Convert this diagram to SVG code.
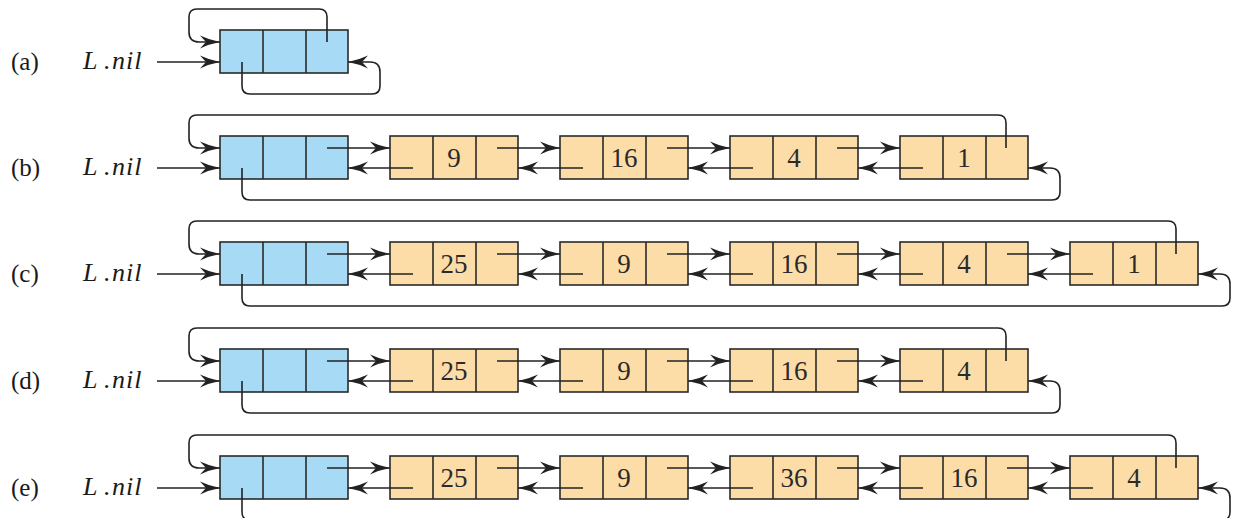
<svg xmlns="http://www.w3.org/2000/svg" width="1233" height="518" viewBox="0 0 1233 518">
<defs>
<style>
.sent{fill:#a6daf5;stroke:#2a2a2a;stroke-width:1.6}
.node{fill:#fcdca7;stroke:#2a2a2a;stroke-width:1.6}
.div{stroke:#2a2a2a;stroke-width:1.6}
.num{font-family:"Liberation Serif","Times New Roman",serif;font-size:27px;fill:#2a2a2a;text-anchor:middle}
.lab{font-family:"Liberation Serif","Times New Roman",serif;font-size:25px;fill:#1a1a1a}
.nil{font-family:"Liberation Serif","Times New Roman",serif;font-size:26px;font-style:italic;fill:#1a1a1a}
.c{fill:none;stroke:#222;stroke-width:1.6;marker-end:url(#ah)}
</style>
<marker id="ah" markerUnits="userSpaceOnUse" markerWidth="22" markerHeight="14" viewBox="0 -7 22 14" refX="20" refY="0" orient="auto">
<path d="M20,0 Q10,1.8 0,6.5 L6,0 L0,-6.5 Q10,-1.8 20,0 Z" fill="#222"/>
</marker>
</defs>
<rect width="1233" height="518" fill="#ffffff"/>

<g id="labels">
<text class="lab" x="11" y="70">(a)</text>
<text class="nil" x="83" y="69"><tspan>L</tspan><tspan x="104">.</tspan><tspan x="112" letter-spacing="1">nil</tspan></text>
<text class="lab" x="11" y="176">(b)</text>
<text class="nil" x="83" y="175"><tspan>L</tspan><tspan x="104">.</tspan><tspan x="112" letter-spacing="1">nil</tspan></text>
<text class="lab" x="11" y="282">(c)</text>
<text class="nil" x="83" y="281"><tspan>L</tspan><tspan x="104">.</tspan><tspan x="112" letter-spacing="1">nil</tspan></text>
<text class="lab" x="11" y="389">(d)</text>
<text class="nil" x="83" y="388"><tspan>L</tspan><tspan x="104">.</tspan><tspan x="112" letter-spacing="1">nil</tspan></text>
<text class="lab" x="11" y="496">(e)</text>
<text class="nil" x="83" y="495"><tspan>L</tspan><tspan x="104">.</tspan><tspan x="112" letter-spacing="1">nil</tspan></text>
</g>

<g id="a-sentinel"><rect class="sent" x="220" y="30" width="128" height="43"/><line class="div" x1="263" y1="30" x2="263" y2="73"/><line class="div" x1="306" y1="30" x2="306" y2="73"/></g>

<g id="b-sentinel"><rect class="sent" x="220" y="136" width="128" height="43"/><line class="div" x1="263" y1="136" x2="263" y2="179"/><line class="div" x1="306" y1="136" x2="306" y2="179"/></g>
<g id="b-n9"><rect class="node" x="390" y="136" width="128" height="43"/><line class="div" x1="433" y1="136" x2="433" y2="179"/><line class="div" x1="476" y1="136" x2="476" y2="179"/><text class="num" x="454" y="167">9</text></g>
<g id="b-n16"><rect class="node" x="560" y="136" width="128" height="43"/><line class="div" x1="603" y1="136" x2="603" y2="179"/><line class="div" x1="646" y1="136" x2="646" y2="179"/><text class="num" x="624" y="167">16</text></g>
<g id="b-n4"><rect class="node" x="730" y="136" width="128" height="43"/><line class="div" x1="773" y1="136" x2="773" y2="179"/><line class="div" x1="816" y1="136" x2="816" y2="179"/><text class="num" x="794" y="167">4</text></g>
<g id="b-n1"><rect class="node" x="900" y="136" width="128" height="43"/><line class="div" x1="943" y1="136" x2="943" y2="179"/><line class="div" x1="986" y1="136" x2="986" y2="179"/><text class="num" x="964" y="167">1</text></g>

<g id="c-sentinel"><rect class="sent" x="220" y="242" width="128" height="43"/><line class="div" x1="263" y1="242" x2="263" y2="285"/><line class="div" x1="306" y1="242" x2="306" y2="285"/></g>
<g id="c-n25"><rect class="node" x="390" y="242" width="128" height="43"/><line class="div" x1="433" y1="242" x2="433" y2="285"/><line class="div" x1="476" y1="242" x2="476" y2="285"/><text class="num" x="454" y="273">25</text></g>
<g id="c-n9"><rect class="node" x="560" y="242" width="128" height="43"/><line class="div" x1="603" y1="242" x2="603" y2="285"/><line class="div" x1="646" y1="242" x2="646" y2="285"/><text class="num" x="624" y="273">9</text></g>
<g id="c-n16"><rect class="node" x="730" y="242" width="128" height="43"/><line class="div" x1="773" y1="242" x2="773" y2="285"/><line class="div" x1="816" y1="242" x2="816" y2="285"/><text class="num" x="794" y="273">16</text></g>
<g id="c-n4"><rect class="node" x="900" y="242" width="128" height="43"/><line class="div" x1="943" y1="242" x2="943" y2="285"/><line class="div" x1="986" y1="242" x2="986" y2="285"/><text class="num" x="964" y="273">4</text></g>
<g id="c-n1"><rect class="node" x="1070" y="242" width="128" height="43"/><line class="div" x1="1113" y1="242" x2="1113" y2="285"/><line class="div" x1="1156" y1="242" x2="1156" y2="285"/><text class="num" x="1134" y="273">1</text></g>

<g id="d-sentinel"><rect class="sent" x="220" y="349" width="128" height="43"/><line class="div" x1="263" y1="349" x2="263" y2="392"/><line class="div" x1="306" y1="349" x2="306" y2="392"/></g>
<g id="d-n25"><rect class="node" x="390" y="349" width="128" height="43"/><line class="div" x1="433" y1="349" x2="433" y2="392"/><line class="div" x1="476" y1="349" x2="476" y2="392"/><text class="num" x="454" y="380">25</text></g>
<g id="d-n9"><rect class="node" x="560" y="349" width="128" height="43"/><line class="div" x1="603" y1="349" x2="603" y2="392"/><line class="div" x1="646" y1="349" x2="646" y2="392"/><text class="num" x="624" y="380">9</text></g>
<g id="d-n16"><rect class="node" x="730" y="349" width="128" height="43"/><line class="div" x1="773" y1="349" x2="773" y2="392"/><line class="div" x1="816" y1="349" x2="816" y2="392"/><text class="num" x="794" y="380">16</text></g>
<g id="d-n4"><rect class="node" x="900" y="349" width="128" height="43"/><line class="div" x1="943" y1="349" x2="943" y2="392"/><line class="div" x1="986" y1="349" x2="986" y2="392"/><text class="num" x="964" y="380">4</text></g>

<g id="e-sentinel"><rect class="sent" x="220" y="456" width="128" height="43"/><line class="div" x1="263" y1="456" x2="263" y2="499"/><line class="div" x1="306" y1="456" x2="306" y2="499"/></g>
<g id="e-n25"><rect class="node" x="390" y="456" width="128" height="43"/><line class="div" x1="433" y1="456" x2="433" y2="499"/><line class="div" x1="476" y1="456" x2="476" y2="499"/><text class="num" x="454" y="487">25</text></g>
<g id="e-n9"><rect class="node" x="560" y="456" width="128" height="43"/><line class="div" x1="603" y1="456" x2="603" y2="499"/><line class="div" x1="646" y1="456" x2="646" y2="499"/><text class="num" x="624" y="487">9</text></g>
<g id="e-n36"><rect class="node" x="730" y="456" width="128" height="43"/><line class="div" x1="773" y1="456" x2="773" y2="499"/><line class="div" x1="816" y1="456" x2="816" y2="499"/><text class="num" x="794" y="487">36</text></g>
<g id="e-n16"><rect class="node" x="900" y="456" width="128" height="43"/><line class="div" x1="943" y1="456" x2="943" y2="499"/><line class="div" x1="986" y1="456" x2="986" y2="499"/><text class="num" x="964" y="487">16</text></g>
<g id="e-n4"><rect class="node" x="1070" y="456" width="128" height="43"/><line class="div" x1="1113" y1="456" x2="1113" y2="499"/><line class="div" x1="1156" y1="456" x2="1156" y2="499"/><text class="num" x="1134" y="487">4</text></g>

<g id="connectors">
<path class="c" d="M157,62 H220"/>
<path class="c" d="M327,42 V17 Q327,9 319,9 H197 Q189,9 189,17 V32 Q189,42 199,42 H220"/>
<path class="c" d="M242,62 V86 Q242,94 250,94 H372 Q380,94 380,86 V72 Q380,62 370,62 H348"/>
<path class="c" d="M157,168 H220"/>
<path class="c" d="M1006,148 V123 Q1006,115 998,115 H197 Q189,115 189,123 V138 Q189,148 199,148 H220"/>
<path class="c" d="M327,148 H390"/>
<path class="c" d="M497,148 H560"/>
<path class="c" d="M667,148 H730"/>
<path class="c" d="M837,148 H900"/>
<path class="c" d="M413,168 H348"/>
<path class="c" d="M583,168 H518"/>
<path class="c" d="M753,168 H688"/>
<path class="c" d="M923,168 H858"/>
<path class="c" d="M242,168 V192 Q242,200 250,200 H1052 Q1060,200 1060,192 V178 Q1060,168 1050,168 H1028"/>
<path class="c" d="M157,274 H220"/>
<path class="c" d="M1176,254 V229 Q1176,221 1168,221 H197 Q189,221 189,229 V244 Q189,254 199,254 H220"/>
<path class="c" d="M327,254 H390"/>
<path class="c" d="M497,254 H560"/>
<path class="c" d="M667,254 H730"/>
<path class="c" d="M837,254 H900"/>
<path class="c" d="M1007,254 H1070"/>
<path class="c" d="M413,274 H348"/>
<path class="c" d="M583,274 H518"/>
<path class="c" d="M753,274 H688"/>
<path class="c" d="M923,274 H858"/>
<path class="c" d="M1093,274 H1028"/>
<path class="c" d="M242,274 V298 Q242,306 250,306 H1222 Q1230,306 1230,298 V284 Q1230,274 1220,274 H1198"/>
<path class="c" d="M157,381 H220"/>
<path class="c" d="M1006,361 V336 Q1006,328 998,328 H197 Q189,328 189,336 V351 Q189,361 199,361 H220"/>
<path class="c" d="M327,361 H390"/>
<path class="c" d="M497,361 H560"/>
<path class="c" d="M667,361 H730"/>
<path class="c" d="M837,361 H900"/>
<path class="c" d="M413,381 H348"/>
<path class="c" d="M583,381 H518"/>
<path class="c" d="M753,381 H688"/>
<path class="c" d="M923,381 H858"/>
<path class="c" d="M242,381 V405 Q242,413 250,413 H1052 Q1060,413 1060,405 V391 Q1060,381 1050,381 H1028"/>
<path class="c" d="M157,488 H220"/>
<path class="c" d="M1176,468 V443 Q1176,435 1168,435 H197 Q189,435 189,443 V458 Q189,468 199,468 H220"/>
<path class="c" d="M327,468 H390"/>
<path class="c" d="M497,468 H560"/>
<path class="c" d="M667,468 H730"/>
<path class="c" d="M837,468 H900"/>
<path class="c" d="M1007,468 H1070"/>
<path class="c" d="M413,488 H348"/>
<path class="c" d="M583,488 H518"/>
<path class="c" d="M753,488 H688"/>
<path class="c" d="M923,488 H858"/>
<path class="c" d="M1093,488 H1028"/>
<path class="c" d="M242,488 V512 Q242,520 250,520 H1222 Q1230,520 1230,512 V498 Q1230,488 1220,488 H1198"/>
</g>
</svg>
